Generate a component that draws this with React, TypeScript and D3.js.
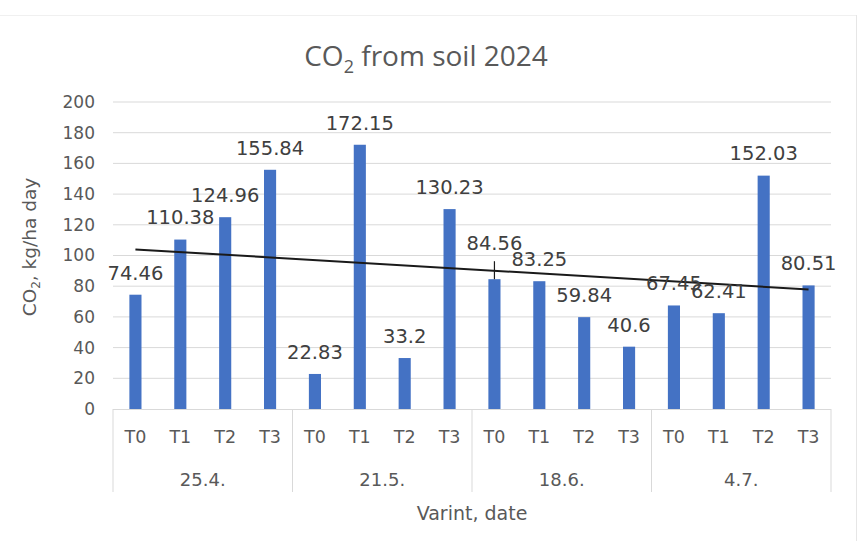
import React, { useEffect, useRef } from 'react';
import * as d3 from 'd3';

const dates: string[] = ['25.4.', '21.5.', '18.6.', '4.7.'];
const variants: string[] = ['T0', 'T1', 'T2', 'T3'];
const co2Values: number[] = [
    74.46, 110.38, 124.96, 155.84,
    22.83, 172.15, 33.2, 130.23,
    84.56, 83.25, 59.84, 40.6,
    67.45, 62.41, 152.03, 80.51,
];
const yTicks: number[] = [0, 20, 40, 60, 80, 100, 120, 140, 160, 180, 200];

const width = 858;
const height = 541;
const textColor = '#595959';
const barColor = '#4472c4';

const App: React.FC = () => {
    const svgRef = useRef<SVGSVGElement>(null);

    useEffect(() => {
        if (!svgRef.current) return;
        const svg = d3.select(svgRef.current);
        svg.selectAll('*').remove();

        const left = 113, right = 831, top = 102, bottom = 409;
        const n = co2Values.length;

        const x = d3.scaleBand<number>()
            .domain(d3.range(n))
            .range([left, right])
            .paddingInner(0.73)
            .paddingOuter(0.365);

        const y = d3.scaleLinear().domain([0, 200]).range([bottom, top]);

        // faint chart frame
        svg.append('line').attr('x1', 0).attr('x2', 856).attr('y1', 15.5).attr('y2', 15.5)
            .attr('stroke', '#f0f0f0');
        svg.append('line').attr('x1', 856.5).attr('x2', 856.5).attr('y1', 15).attr('y2', height)
            .attr('stroke', '#e6e6e6');

        // title
        const title = svg.append('text')
            .attr('x', 426).attr('y', 66)
            .attr('text-anchor', 'middle')
            .attr('font-family', 'Open Sans')
            .attr('font-size', 28)
            .attr('fill', textColor);
        title.append('tspan').text('CO');
        title.append('tspan').attr('font-size', 18).attr('dy', 7).text('2');
        title.append('tspan').attr('dy', -7).text(' from soil 2024');

        // gridlines
        svg.append('g')
            .selectAll('line')
            .data(yTicks.filter(t => t > 0))
            .join('line')
            .attr('x1', left).attr('x2', right)
            .attr('y1', d => y(d)).attr('y2', d => y(d))
            .attr('stroke', '#d9d9d9').attr('stroke-width', 1);

        // y tick labels
        svg.append('g')
            .selectAll('text')
            .data(yTicks)
            .join('text')
            .attr('x', 95).attr('y', d => y(d))
            .attr('dy', '0.35em')
            .attr('text-anchor', 'end')
            .attr('font-family', 'DejaVu Sans')
            .attr('font-size', 17)
            .attr('fill', textColor)
            .text(d => d);

        // y axis title
        const yTitle = svg.append('text')
            .attr('transform', 'translate(36,247) rotate(-90)')
            .attr('text-anchor', 'middle')
            .attr('font-family', 'DejaVu Sans')
            .attr('font-size', 18.5)
            .attr('fill', textColor);
        yTitle.append('tspan').text('CO');
        yTitle.append('tspan').attr('font-size', 12).attr('dy', 4).text('2');
        yTitle.append('tspan').attr('dy', -4).text(', kg/ha day');

        // bars
        svg.append('g')
            .selectAll('rect')
            .data(co2Values)
            .join('rect')
            .attr('x', (d, i) => x(i) ?? 0)
            .attr('y', d => y(d))
            .attr('width', x.bandwidth())
            .attr('height', d => bottom - y(d))
            .attr('fill', barColor);

        // x axis line and group separators
        svg.append('line')
            .attr('x1', left).attr('x2', right)
            .attr('y1', bottom + 0.5).attr('y2', bottom + 0.5)
            .attr('stroke', '#d9d9d9');

        const groupWidth = (right - left) / dates.length;
        svg.append('g')
            .selectAll('line')
            .data(d3.range(dates.length + 1))
            .join('line')
            .attr('x1', d => left + d * groupWidth).attr('x2', d => left + d * groupWidth)
            .attr('y1', bottom).attr('y2', 492)
            .attr('stroke', '#d9d9d9');

        // variant labels
        svg.append('g')
            .selectAll('text')
            .data(co2Values)
            .join('text')
            .attr('x', (d, i) => (x(i) ?? 0) + x.bandwidth() / 2)
            .attr('y', 437)
            .attr('dy', '0.35em')
            .attr('text-anchor', 'middle')
            .attr('font-family', 'DejaVu Sans')
            .attr('font-size', 17.5)
            .attr('fill', textColor)
            .text((d, i) => variants[i % variants.length]);

        // date labels
        svg.append('g')
            .selectAll('text')
            .data(dates)
            .join('text')
            .attr('x', (d, i) => left + (i + 0.5) * groupWidth)
            .attr('y', 480)
            .attr('dy', '0.35em')
            .attr('text-anchor', 'middle')
            .attr('font-family', 'DejaVu Sans')
            .attr('font-size', 18)
            .attr('fill', textColor)
            .text(d => d);

        // x axis title
        svg.append('text')
            .attr('x', 472).attr('y', 513)
            .attr('dy', '0.35em')
            .attr('text-anchor', 'middle')
            .attr('font-family', 'DejaVu Sans')
            .attr('font-size', 19)
            .attr('fill', textColor)
            .text('Varint, date');

        // linear trendline (least squares over bar index)
        const idx = d3.range(n);
        const mx = d3.mean(idx) ?? 0;
        const my = d3.mean(co2Values) ?? 0;
        const sxy = d3.sum(idx, i => (i - mx) * (co2Values[i] - my));
        const sxx = d3.sum(idx, i => (i - mx) * (i - mx));
        const slope = sxy / sxx;
        const intercept = my - slope * mx;
        const cx = (i: number) => (x(i) ?? 0) + x.bandwidth() / 2;

        svg.append('line')
            .attr('x1', cx(0)).attr('y1', y(intercept))
            .attr('x2', cx(n - 1)).attr('y2', y(intercept + slope * (n - 1)))
            .attr('stroke', '#1a1a1a').attr('stroke-width', 2);

        // small marker above the 18.6. T0 bar
        svg.append('line')
            .attr('x1', cx(8)).attr('x2', cx(8))
            .attr('y1', y(co2Values[8]) - 18).attr('y2', y(co2Values[8]))
            .attr('stroke', '#1a1a1a').attr('stroke-width', 1.2);

        // data labels
        const labelNudge: Record<number, number> = { 8: -14 };
        svg.append('g')
            .selectAll('text')
            .data(co2Values)
            .join('text')
            .attr('x', (d, i) => cx(i))
            .attr('y', (d, i) => y(d) - 22 + (labelNudge[i] ?? 0))
            .attr('dy', '0.35em')
            .attr('text-anchor', 'middle')
            .attr('font-family', 'DejaVu Sans')
            .attr('font-size', 19.5)
            .attr('fill', '#404040')
            .text(d => d);
    }, []);

    return (
        <svg
            ref={svgRef}
            width={width}
            height={height}
            style={{ position: 'absolute', left: 0, top: 0, background: '#fff' }}
        />
    );
};

export default App;
